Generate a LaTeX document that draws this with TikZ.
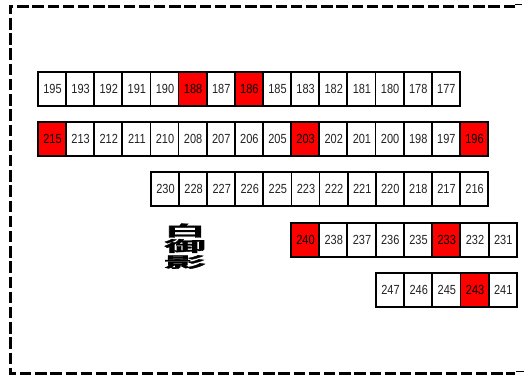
\documentclass[tikz,border=0pt]{standalone}
\usepackage{fontspec}
\setmainfont{Liberation Sans}
\newfontfamily\jpfont[FakeBold=2]{Noto Sans CJK JP Bold}
\usepackage{xcolor}
\usetikzlibrary{positioning}
\definecolor{lotred}{HTML}{FF0000}
\definecolor{lotink}{HTML}{222222}

\begin{document}
\begin{tikzpicture}[x=1pt,y=-1pt,font=\fontsize{11}{11}\selectfont,
  lot/.style={draw=black,line width=1.8pt,text=lotink,minimum width=28.15pt,minimum height=28.3pt,inner sep=0pt,yscale=1.2},
  sold/.style={lot,fill=lotred,text=black},
  frame/.style={draw=black,line width=3pt,dash pattern=on 11.5pt off 3.7pt},
  kink/.style={draw=black,line width=1.5pt},
  kanji/.style={font=\fontsize{16}{16}\jpfont,inner sep=0pt,xscale=2.6,yscale=0.92}]
  \useasboundingbox (0,0) rectangle (529,377);
  \draw[frame] (515,6.3) -- (10,6.3) -- (10,373) -- (515,373);
  \draw[kink] (515,4.5) -- (522,4.5);
  \draw[kink] (516,371.5) -- (524,371.5);
  % row 1
  \foreach \n/\s [count=\i from 0] in {195/lot,193/lot,192/lot,191/lot,190/lot,188/sold,187/lot,186/sold,185/lot,183/lot,182/lot,181/lot,180/lot,178/lot,177/lot}{
    \node[\s] (lot\n) at ({52+\i*28.13},89) {\hspace{1pt}\n};
  }
  % row 2
  \foreach \n/\s [count=\i from 0] in {215/sold,213/lot,212/lot,211/lot,210/lot,208/lot,207/lot,206/lot,205/lot,203/sold,202/lot,201/lot,200/lot,198/lot,197/lot,196/sold}{
    \node[\s] (lot\n) at ({52+\i*28.13},139) {\hspace{1pt}\n};
  }
  % row 3
  \foreach \n/\s [count=\i from 0] in {230/lot,228/lot,227/lot,226/lot,225/lot,223/lot,222/lot,221/lot,220/lot,218/lot,217/lot,216/lot}{
    \node[\s] (lot\n) at ({165+\i*28.1},189) {\hspace{1pt}\n};
  }
  % row 4
  \foreach \n/\s [count=\i from 0] in {240/sold,238/lot,237/lot,236/lot,235/lot,233/sold,232/lot,231/lot}{
    \node[\s] (lot\n) at ({305+\i*28.25},240) {\hspace{1pt}\n};
  }
  % row 5
  \foreach \n/\s [count=\i from 0] in {247/lot,246/lot,245/lot,243/sold,241/lot}{
    \node[\s] (lot\n) at ({390+\i*28.2},290) {\hspace{1pt}\n};
  }
  \node[kanji] (shiro) at (185,230.5) {白};
  \node[kanji] (mi) at (185,246) {御};
  \node[kanji] (kage) at (185,262) {影};
\end{tikzpicture}
\end{document}
